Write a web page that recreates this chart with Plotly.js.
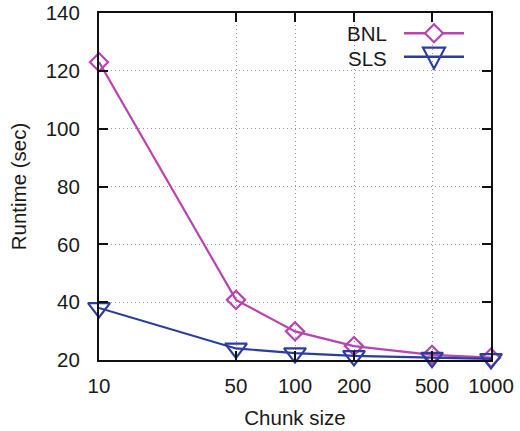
<!DOCTYPE html>
<html><head><meta charset="utf-8">
<script src="https://cdn.plot.ly/plotly-3.0.1.min.js"></script>
<style>html,body{margin:0;padding:0;background:#fff}#chart{width:520px;height:431px}</style>
</head><body><div id="chart"></div>
<script>
const chunkSizes = [10, 50, 100, 200, 500, 1000];
const tickLabels = ['10', '50', '100', '200', '500', '1000'];
const bnlRuntime = [123, 40.8, 29.9, 24.8, 21.8, 20.8];
const slsRuntime = [38.0, 24.0, 22.4, 21.4, 20.8, 20.4];
const seriesNames = ['BNL', 'SLS'];

const BNL_COLOR = '#b944b0';
const SLS_COLOR = '#2b3d9e';
const FONT = 'Liberation Sans, Arial, sans-serif';
const FS = 20.5;

const traces = [
  {x: chunkSizes, y: bnlRuntime, name: seriesNames[0], mode: 'lines+markers', type: 'scatter', cliponaxis: false,
   line: {color: BNL_COLOR, width: 2.2},
   marker: {symbol: 'diamond-open', size: 14, color: BNL_COLOR, line: {width: 2.2, color: BNL_COLOR}}},
  {x: chunkSizes, y: slsRuntime, name: seriesNames[1], mode: 'lines+markers', type: 'scatter', cliponaxis: false,
   line: {color: SLS_COLOR, width: 2.2},
   marker: {symbol: 'triangle-down-open', size: 19, color: SLS_COLOR, line: {width: 2.2, color: SLS_COLOR}}}
];

const L = 99, R = 491, T = 13, B = 360;
const px = v => (v - L) / (R - L);
const py = v => (B - v) / (B - T);

const shapes = [
  {type: 'line', xref: 'paper', yref: 'paper', x0: px(404), x1: px(464), y0: py(33.3), y1: py(33.3),
   line: {color: BNL_COLOR, width: 2.5}},
  {type: 'path', xref: 'paper', yref: 'paper', xsizemode: 'pixel', ysizemode: 'pixel',
   xanchor: px(434), yanchor: py(33.3), path: 'M -9 0 L 0 9 L 9 0 L 0 -9 Z',
   line: {color: BNL_COLOR, width: 2.2}, fillcolor: 'white'},
  {type: 'line', xref: 'paper', yref: 'paper', x0: px(404), x1: px(464), y0: py(56.7), y1: py(56.7),
   line: {color: SLS_COLOR, width: 2.5}},
  {type: 'path', xref: 'paper', yref: 'paper', xsizemode: 'pixel', ysizemode: 'pixel',
   xanchor: px(434), yanchor: py(56.7), path: 'M -11 9 L 11 9 L 0 -12 Z',
   line: {color: SLS_COLOR, width: 2.2}, fillcolor: 'rgba(0,0,0,0)'}
];

const annotations = [
  {xref: 'paper', yref: 'paper', x: px(389), y: py(34), xanchor: 'right', yanchor: 'middle',
   text: seriesNames[0], showarrow: false, font: {family: FONT, size: FS, color: '#1a1a1a'}},
  {xref: 'paper', yref: 'paper', x: px(389), y: py(58), xanchor: 'right', yanchor: 'middle',
   text: seriesNames[1], showarrow: false, font: {family: FONT, size: FS, color: '#1a1a1a'}}
];

const layout = {
  width: 520, height: 431,
  margin: {l: L, r: 520 - R, t: T, b: 431 - B},
  paper_bgcolor: '#fff', plot_bgcolor: '#fff',
  showlegend: false,
  font: {family: FONT, size: FS, color: '#1a1a1a'},
  xaxis: {
    type: 'log', range: [1, 3], tickvals: chunkSizes, ticktext: tickLabels,
    showline: true, linecolor: '#111', linewidth: 2, mirror: 'ticks',
    ticks: 'inside', ticklen: 9, tickwidth: 2, tickcolor: '#111',
    showgrid: true, gridcolor: '#999', griddash: '1px,3px', gridwidth: 1,
    zeroline: false, automargin: false, ticklabelstandoff: 6,
    title: {text: 'Chunk size', font: {family: FONT, size: FS}, standoff: 15}
  },
  yaxis: {
    range: [20, 140], tickvals: [20, 40, 60, 80, 100, 120, 140],
    showline: true, linecolor: '#111', linewidth: 2, mirror: 'ticks',
    ticks: 'inside', ticklen: 9, tickwidth: 2, tickcolor: '#111',
    showgrid: true, gridcolor: '#999', griddash: '1px,3px', gridwidth: 1,
    zeroline: false, automargin: false, ticklabelstandoff: 13,
    title: {text: 'Runtime (sec)', font: {family: FONT, size: FS}, standoff: 14}
  },
  shapes: shapes,
  annotations: annotations
};

Plotly.newPlot('chart', traces, layout, {displayModeBar: false, staticPlot: true});
</script>
</body></html>
